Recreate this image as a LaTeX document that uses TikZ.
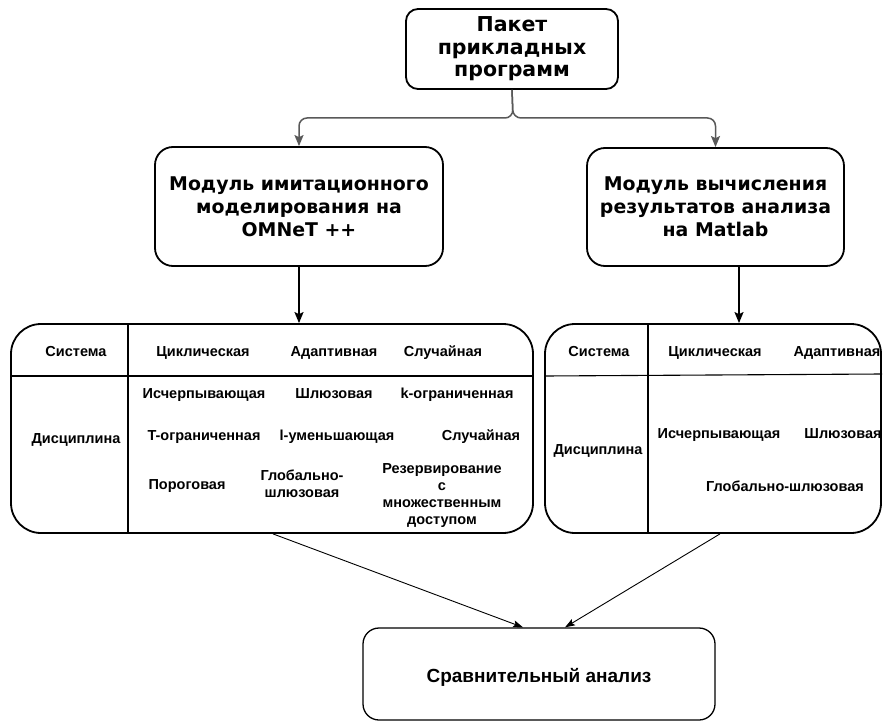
\documentclass[tikz,border=0pt]{standalone}
\usepackage{fontspec}
\newfontfamily\dvfont{DejaVu Sans}
\newfontfamily\libfont{Liberation Sans}
\usetikzlibrary{arrows.meta}
\definecolor{conngray}{HTML}{595959}
\begin{document}
\begin{tikzpicture}[x=1pt,y=-1pt,
  modbox/.style={draw, line width=1.8pt, align=center, inner sep=0pt,
    font=\dvfont\bfseries\fontsize{18.9}{22.8}\selectfont},
  tablebox/.style={draw, line width=1.8pt, rounded corners=30pt, inner sep=0pt,
    minimum height=209pt},
  tcell/.style={font=\libfont\bfseries\fontsize{14.5}{17}\selectfont, inner sep=0pt,
    align=center},
  tone/.style={tcell, text height=10.5pt, text depth=3pt},
  grayarrow/.style={draw=conngray, line width=1.5pt, rounded corners=8pt,
    -{Stealth[length=11pt,width=9pt,inset=2pt]}, color=conngray},
  blackarrow/.style={draw, line width=1.5pt, -{Stealth[length=11pt,width=9pt,inset=2pt]}},
  thinarrow/.style={draw, line width=0.9pt, -{Stealth[length=10pt,width=7pt,inset=2pt]}},
  gridline/.style={line width=1.1pt}
]
\useasboundingbox (0,0) rectangle (883,722);
\fill[white] (0,0) rectangle (883,722);

% top box
\node[modbox, rounded corners=12pt, minimum width=212pt, minimum height=80pt,
  font=\dvfont\bfseries\fontsize{20.5}{22.5}\selectfont] (top) at (512,49)
  {Пакет\\прикладных\\программ};
% module boxes
\node[modbox, rounded corners=18pt, minimum width=288pt, minimum height=119pt] (lm) at (299,206.5)
  {Модуль имитационного\\моделирования на\\OMNeT ++};
\node[modbox, rounded corners=18pt, minimum width=257pt, minimum height=118pt] (rm) at (715.5,207)
  {Модуль вычисления\\результатов анализа\\на Matlab};

% connectors from top box
\coordinate (j) at (513,118);
\path[grayarrow] (top.south) -- (j) -| (lm.north);
\path[grayarrow] (top.south) -- (j) -| (rm.north);

% left table
\draw[gridline] (128,324) -- (128,533);
\draw[gridline] (11,376) -- (533,376);
\node[tablebox, minimum width=522pt] (lt) at (272,428.5) {};
\node[tone] (l1) at (76,353) {Система};
\node[tone] (l2) at (203,353) {Циклическая};
\node[tone] (l3) at (334,353) {Адаптивная};
\node[tone] (l4) at (443,353) {Случайная};
\node[tone] (l5) at (76,440) {Дисциплина};
\node[tone] (l6) at (204,395) {Исчерпывающая};
\node[tone] (l7) at (334,395) {Шлюзовая};
\node[tone] (l8) at (457,395) {k-ограниченная};
\node[tone] (l9) at (204,437) {T-ограниченная};
\node[tone] (l10) at (337,437) {l-уменьшающая};
\node[tone] (l11) at (481,437) {Случайная};
\node[tone] (l12) at (187,486) {Пороговая};
\node[tcell] (l13) at (302,484) {Глобально-\\шлюзовая};
\node[tcell] (l14) at (442,496) {Резервирование\\с\\множественным\\доступом};

% right table
\draw[gridline] (648,324) -- (648,533);
\draw[gridline] (545,376) -- (882,374);
\node[tablebox, minimum width=336pt] (rt) at (713,428.5) {};
\node[tone] (r1) at (599,353) {Система};
\node[tone] (r2) at (715,353) {Циклическая};
\node[tone] (r3) at (837,353) {Адаптивная};
\node[tone] (r4) at (598,451) {Дисциплина};
\node[tone] (r5) at (719,435) {Исчерпывающая};
\node[tone] (r6) at (843,435) {Шлюзовая};
\node[tone] (r7) at (785,488) {Глобально-шлюзовая};

% module to table arrows
\path[blackarrow] (lm.south) -- (lm.south |- lt.north);
\path[blackarrow] ([xshift=23.5pt]rm.south) -- ([xshift=26pt]rt.north);

% bottom box
\node[draw, line width=1.3pt, rounded corners=16pt, minimum width=352pt, minimum height=92pt,
  inner sep=0pt, font=\libfont\bfseries\fontsize{19}{23}\selectfont,
  text height=16pt, text depth=0pt] (bb) at (539,674) {Сравнительный анализ};

% table to bottom arrows
\path[thinarrow] ([xshift=1pt]lt.south) -- ([xshift=-16pt]bb.north);
\path[thinarrow] ([xshift=7pt]rt.south) -- ([xshift=26pt]bb.north);
\end{tikzpicture}
\end{document}
